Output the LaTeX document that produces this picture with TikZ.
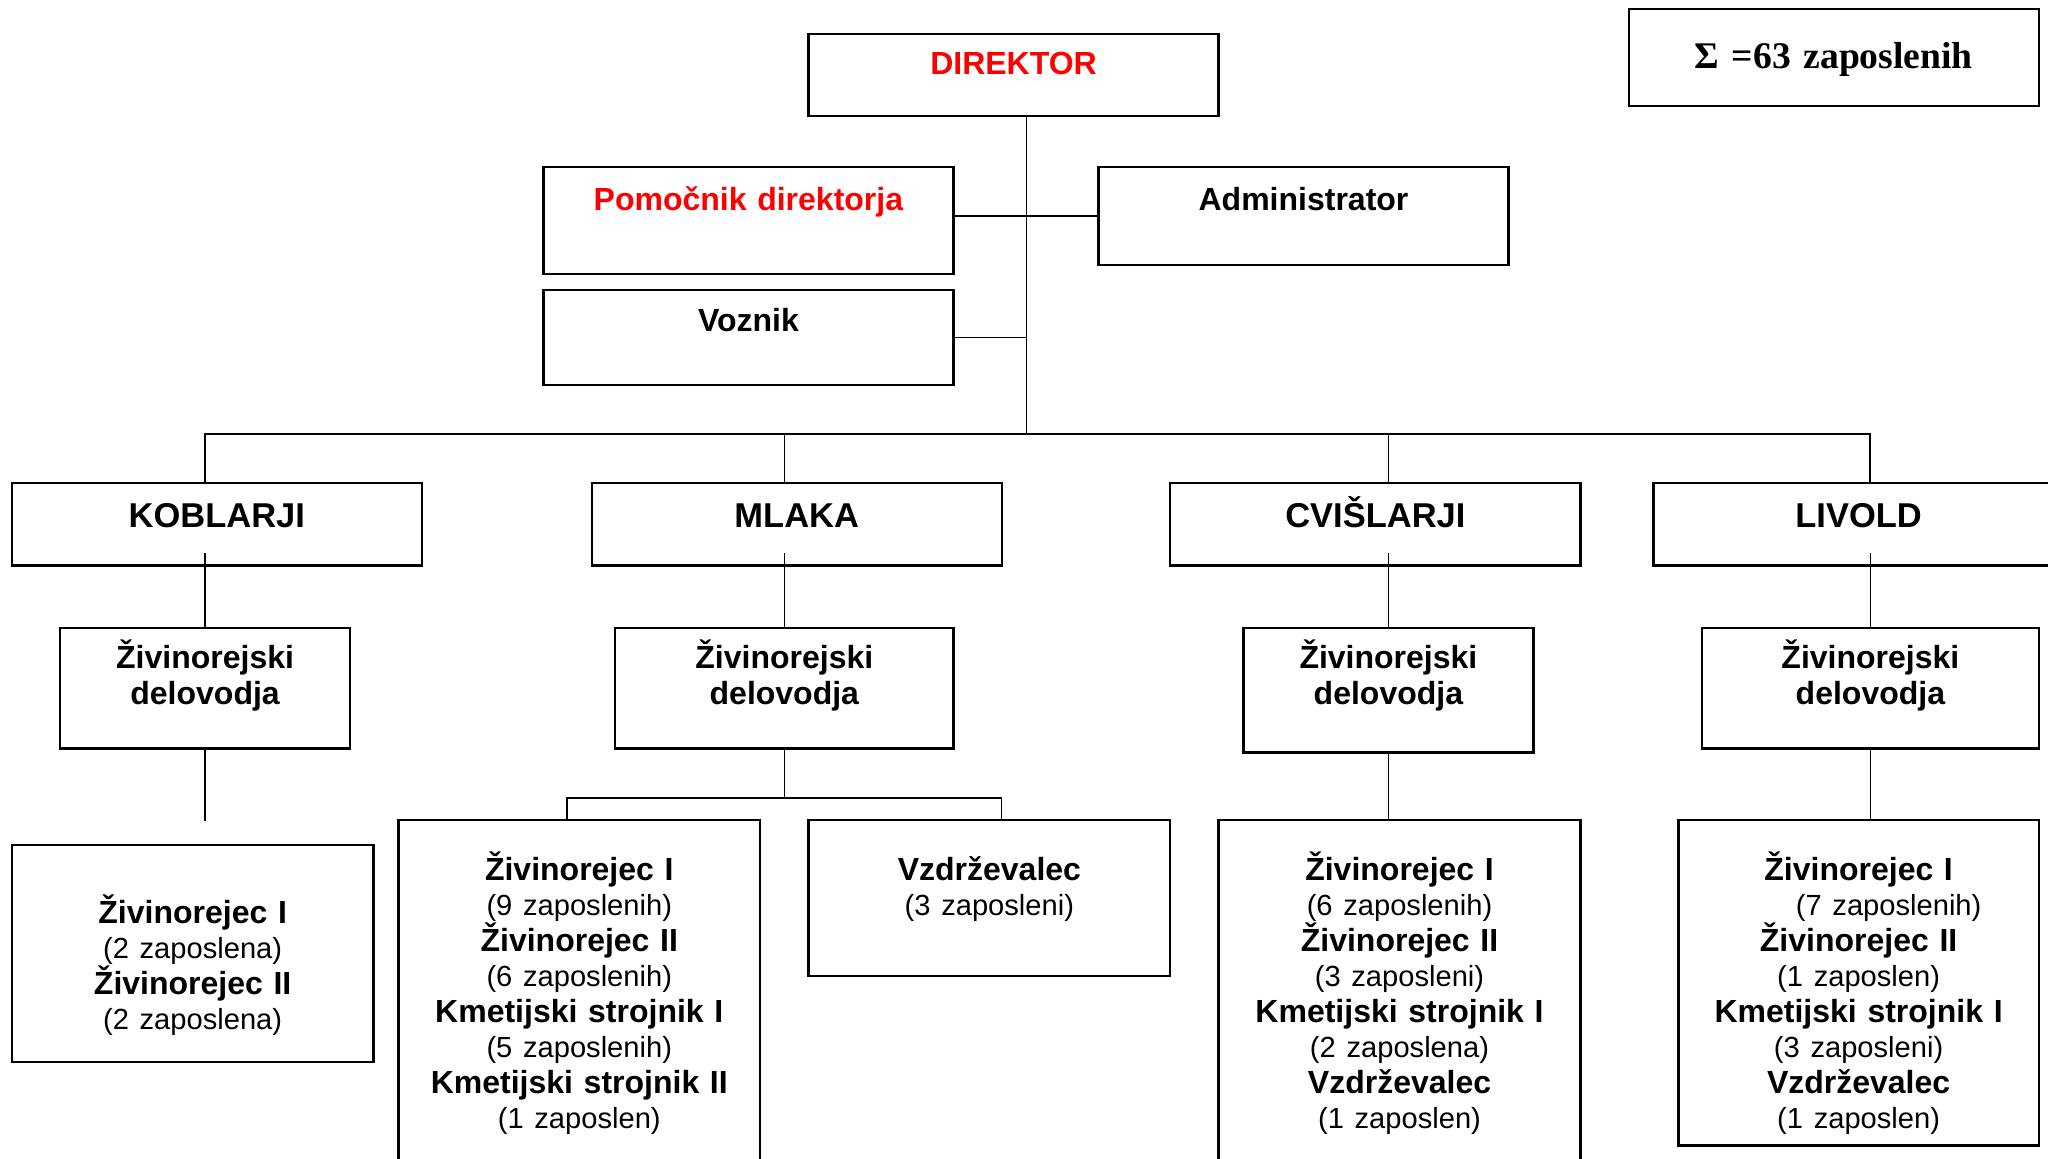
\documentclass[tikz,border=0pt]{standalone}
\usepackage{fontspec}
\setmainfont{Liberation Sans}
\newfontfamily\serifbold{Liberation Serif}
\usepackage{xcolor}

\newcommand{\headfont}{\fontsize{13.2pt}{15pt}\selectfont\bfseries}
\newcommand{\jobfont}{\fontsize{12.25pt}{13.6pt}\selectfont\bfseries}
\newcommand{\numfont}{\fontsize{11.15pt}{13.6pt}\selectfont\mdseries}
\newcommand{\sumfont}{\serifbold\fontsize{14.4pt}{16pt}\selectfont\bfseries}

\tikzstyle{box} = [rectangle, draw=black, line width=0.9pt, inner sep=0pt, align=center, font=\jobfont]
\tikzstyle{site} = [box, text width=157pt, text height=16.75pt, text depth=14.75pt, font=\headfont]
\tikzstyle{foreman} = [box, text height=15.4pt, text depth=30.6pt]
\tikzstyle{staff} = [box, text width=138.5pt, text height=22.9pt]
\tikzstyle{link} = [line width=0.5pt]
\tikzstyle{bus} = [line width=0.8pt]

\begin{document}
\begin{tikzpicture}[x=0.5pt, y=0.5pt, yscale=-1]

\useasboundingbox (0, 0) rectangle (1568, 887);

\node at (1404, 44) (total) [box, text width=157pt, text height=22.75pt, text depth=14.25pt, font=\sumfont] {Σ =63 zaposlenih};

\node at (776, 57.5) (direktor) [box, text width=157pt, text height=15.4pt, text depth=16.1pt, text=red] {DIREKTOR};
\node at (573, 169) (pomocnik) [box, text width=157pt, text height=16.4pt, text depth=24.6pt, text=red] {Pomočnik direktorja};
\node at (998, 165.5) (admin) [box, text width=157pt, text height=16.4pt, text depth=21.1pt] {Administrator};
\node at (573, 258.5) (voznik) [box, text width=157pt, text height=15.9pt, text depth=20.6pt] {Voznik};

\node at (166, 401.5) (koblarji) [site] {KOBLARJI};
\node at (610, 401.5) (mlaka) [site] {MLAKA};
\node at (1053, 401.5) (cvislarji) [site] {CVIŠLARJI};
\node at (1423, 401.5) (livold) [site] {LIVOLD};

\node at (157, 527) (kobvod) [foreman, text width=111pt] {Živinorejski\\ delovodja};
\node at (600.5, 527) (mlakavod) [foreman, text width=129.5pt] {Živinorejski\\ delovodja};
\node at (1063, 528.5) (cvivod) [foreman, text width=111pt, text depth=32.1pt] {Živinorejski\\ delovodja};
\node at (1432, 527) (livvod) [foreman, text width=129pt] {Živinorejski\\ delovodja};

\node at (147.5, 730) (kobdel) [staff, text height=29.9pt, text depth=53.1pt] {Živinorejec I\\ {\numfont (2 zaposlena)}\\ Živinorejec II\\ {\numfont (2 zaposlena)}};
\node at (443.5, 764) (mlakadel) [staff, text depth=113.1pt] {Živinorejec I\\ {\numfont (9 zaposlenih)}\\ Živinorejec II\\ {\numfont (6 zaposlenih)}\\ Kmetijski strojnik I\\ {\numfont (5 zaposlenih)}\\ Kmetijski strojnik II\\ {\numfont (1 zaposlen)}};
\node at (757.5, 687.5) (mlakavzd) [staff, text depth=36.6pt] {Vzdrževalec\\ {\numfont (3 zaposleni)}};
\node at (1071.5, 764) (cvidel) [staff, text depth=113.1pt] {Živinorejec I\\ {\numfont (6 zaposlenih)}\\ Živinorejec II\\ {\numfont (3 zaposleni)}\\ Kmetijski strojnik I\\ {\numfont (2 zaposlena)}\\ Vzdrževalec\\ {\numfont (1 zaposlen)}};
\node at (1423, 752.5) (livdel) [staff, text width=138pt, text depth=101.6pt] {Živinorejec I\\ {\numfont \hspace*{23pt}(7 zaposlenih)}\\ Živinorejec II\\ {\numfont (1 zaposlen)}\\ Kmetijski strojnik I\\ {\numfont (3 zaposleni)}\\ Vzdrževalec\\ {\numfont (1 zaposlen)}};

% management
\coordinate (hub) at (786, 332);
\draw [link] (direktor.south -| hub) -- (hub);
\draw [bus] (pomocnik.east |- admin.west) -- (admin.west);
\draw [link] (voznik.east) -- (voznik.east -| hub);

% sites
\draw [bus] (koblarji.north -| kobvod.north) |- (hub) -| (livold.north -| livvod.north);
\draw [link] (mlaka.north -| mlakavod.north) -- (mlakavod.north |- hub);
\draw [link] (cvislarji.north -| cvivod.north) -- (cvivod.north |- hub);
\foreach \vod in {kobvod, mlakavod, cvivod, livvod}
  \draw [link] (\vod.north) -- ++(0, -57);

% workers
\draw [link] (kobvod.south) -- ++(0, 55) coordinate (kobend);
\draw [link] (mlakavod.south) -- ++(0, 37) coordinate (mlakafork);
\coordinate (mleft) at (434, 628);
\coordinate (mright) at (767, 628);
\draw [link] (mleft) |- (mlakafork) -| (mright);
\draw [link] (cvivod.south) -- (cvivod.south |- cvidel.north);
\draw [link] (livvod.south) -- (livvod.south |- livdel.north);

\end{tikzpicture}
\end{document}
